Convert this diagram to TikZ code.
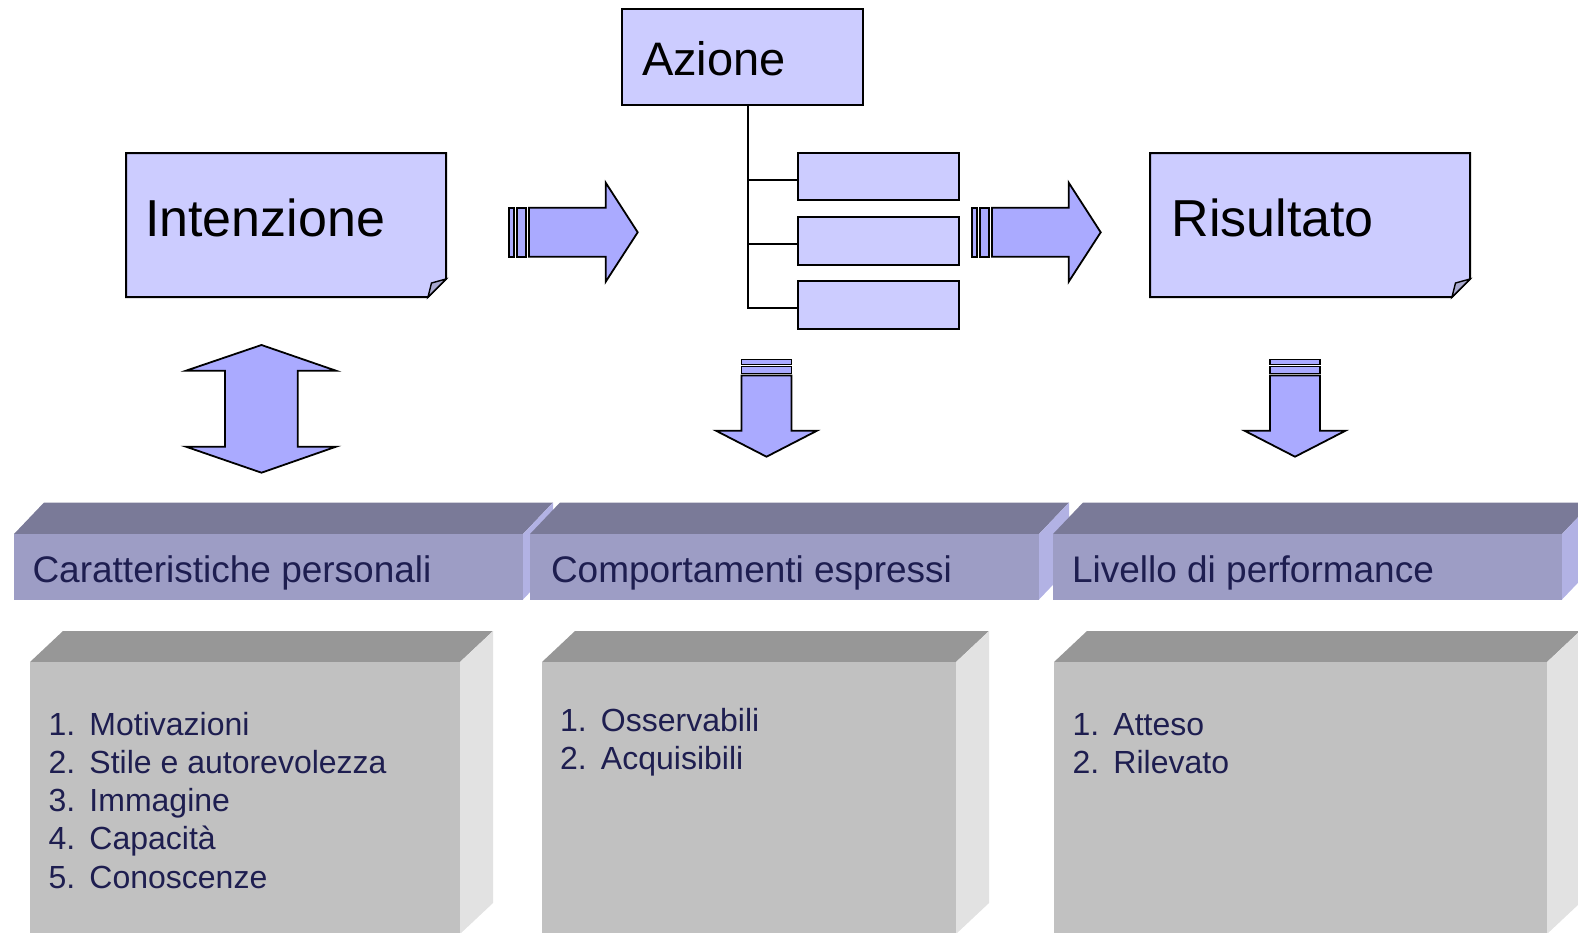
\documentclass[tikz,border=0pt]{standalone}
\usepackage{fontspec}
\setmainfont{Liberation Sans}
\usetikzlibrary{calc}
\definecolor{boxfill}{HTML}{CCCCFF}
\definecolor{arrowfill}{HTML}{AAAAFF}
\definecolor{foldfill}{HTML}{A9A9CF}
\definecolor{hdrfront}{HTML}{9D9DC5}
\definecolor{hdrtop}{HTML}{7A7A98}
\definecolor{hdrside}{HTML}{B2B2E4}
\definecolor{bodyfront}{HTML}{C1C1C1}
\definecolor{bodytop}{HTML}{979797}
\definecolor{bodyside}{HTML}{E2E2E2}
\definecolor{navy}{HTML}{1E1E50}
\newcommand{\itemlist}[1]{\fontsize{32}{38.3}\selectfont\begin{tabular}[t]{@{}l@{\hspace{14.3pt}}l@{}}#1\end{tabular}}
\begin{document}
\begin{tikzpicture}[x=1pt,y=-1pt,
  boxline/.style={draw=black, line width=2pt, fill=boxfill},
  arrowshape/.style={draw=black, line width=1.8pt, fill=arrowfill, line join=miter},
  subbox/.style={boxline, minimum width=161pt, minimum height=47.6pt, inner sep=0pt},
  plain/.style={inner sep=0pt, outer sep=0pt},
  bigtext/.style={plain, anchor=base west, font=\fontsize{52}{60}\selectfont},
  hdrtext/.style={plain, anchor=base west, text=navy, font=\fontsize{37}{44}\selectfont},
  listtext/.style={plain, anchor=base west, text=navy},
  connector/.style={draw=black, line width=2.2pt}]
\useasboundingbox (0,0) rectangle (1578,932);
\clip (0,0) rectangle (1578,932);

% ---------- top boxes ----------
\node[plain, minimum width=320pt, minimum height=144pt] (int) at (286,225) {};
\draw[boxline] (int.north west) -- (int.north east) -- ($(int.south east)+(0,-18)$)
  -- ($(int.south east)+(-18,0)$) -- (int.south west) -- cycle;
\draw[line width=1.4pt, fill=foldfill] ($(int.south east)+(-18,0)$) -- ($(int.south east)+(0,-18)$)
  -- ($(int.south east)+(-14.5,-14)$) -- cycle;
\node[bigtext] (inttxt) at (145,236.5) {Intenzione};

\node[plain, minimum width=320pt, minimum height=144pt] (ris) at (1310,225) {};
\draw[boxline] (ris.north west) -- (ris.north east) -- ($(ris.south east)+(0,-18)$)
  -- ($(ris.south east)+(-18,0)$) -- (ris.south west) -- cycle;
\draw[line width=1.4pt, fill=foldfill] ($(ris.south east)+(-18,0)$) -- ($(ris.south east)+(0,-18)$)
  -- ($(ris.south east)+(-14.5,-14)$) -- cycle;
\node[bigtext] (ristxt) at (1171.5,236.5) {Risultato};

\node[boxline, minimum width=240.5pt, minimum height=95.7pt, inner sep=0pt] (az) at (742.25,56.85) {};
\node[bigtext, font=\fontsize{47}{54}\selectfont] (aztxt) at (642,75) {Azione};

\node[subbox] (s1) at (878.2,176.5) {};
\node[subbox] (s2) at (878.2,240.7) {};
\node[subbox] (s3) at (878.2,304.85) {};
\coordinate (trunk) at (748,0);
\coordinate (j1) at ($(s1.west)+(0,3.5)$);
\coordinate (j2) at ($(s2.west)+(0,3.5)$);
\coordinate (j3) at ($(s3.west)+(0,3.5)$);
\draw[connector] (trunk |- az.south) |- (j3);
\draw[connector] (trunk |- j1) -- (j1);
\draw[connector] (trunk |- j2) -- (j2);

% ---------- right arrows ----------
\foreach \o in {0,463}{
  \draw[arrowshape] (509.3+\o,207.7) rectangle (514.3+\o,256.7);
  \draw[arrowshape] (517.3+\o,207.7) rectangle (526+\o,256.7);
  \draw[arrowshape] (529+\o,207.7) -- (605.7+\o,207.7) -- (605.7+\o,182.7) -- (637.7+\o,232.3)
    -- (605.7+\o,281.7) -- (605.7+\o,256.7) -- (529+\o,256.7) -- cycle;
}

% ---------- double arrow ----------
\draw[arrowshape] (261.5,345) -- (336,370.7) -- (297.7,370.7) -- (297.7,446.7) -- (336,446.7)
  -- (261.5,472.7) -- (186,446.7) -- (225,446.7) -- (225,370.7) -- (186,370.7) -- cycle;

% ---------- down arrows ----------
\foreach \c in {766.5,1295}{
  \draw[arrowshape] (\c-25,359.5) rectangle (\c+25,364.5);
  \draw[arrowshape] (\c-25,366.5) rectangle (\c+25,373.5);
  \draw[arrowshape] (\c-25,375.5) -- (\c+25,375.5) -- (\c+25,430.7) -- (\c+50.5,430.7)
    -- (\c,456.7) -- (\c-50.5,430.7) -- (\c-25,430.7) -- cycle;
}

% ---------- header bars ----------
\foreach \x/\w in {14/509,530/509,1053/509}{
  \fill[hdrtop] (\x,534) -- (\x+30,502.5) -- (\x+\w+30,502.5) -- (\x+\w,534) -- cycle;
  \fill[hdrfront] (\x,534) rectangle (\x+\w,599.5);
  \fill[hdrside] (\x+\w,534) -- (\x+\w+30,502.5) -- (\x+\w+30,568) -- (\x+\w,599.5) -- cycle;
}
\node[hdrtext] (h1) at (32.5,582.7) {Caratteristiche personali};
\node[hdrtext] (h2) at (551,582.7) {Comportamenti espressi};
\node[hdrtext] (h3) at (1072,582.7) {Livello di performance};

% ---------- body blocks ----------
\foreach \x/\w in {30/430,542/414,1054/493}{
  \fill[bodytop] (\x,662) -- (\x+33,631) -- (\x+\w+33,631) -- (\x+\w,662) -- cycle;
  \fill[bodyfront] (\x,662) rectangle (\x+\w,940);
  \fill[bodyside] (\x+\w,662) -- (\x+\w+33,631) -- (\x+\w+33,903) -- (\x+\w,934) -- cycle;
}
\node[listtext] (l1) at (48.5,735) {\itemlist{1.&Motivazioni\\2.&Stile e autorevolezza\\3.&Immagine\\4.&Capacità\\5.&Conoscenze}};
\node[listtext] (l2) at (560,731) {\itemlist{1.&Osservabili\\2.&Acquisibili}};
\node[listtext] (l3) at (1072.5,735) {\itemlist{1.&Atteso\\2.&Rilevato}};
\end{tikzpicture}
\end{document}
